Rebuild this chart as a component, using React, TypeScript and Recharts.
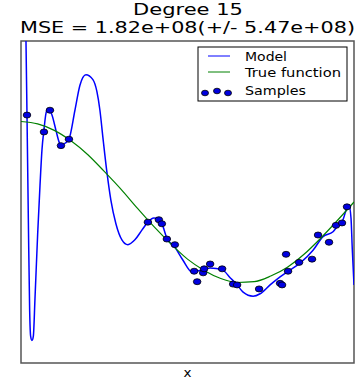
import React from 'react'
import { ComposedChart, Line, Scatter, XAxis, YAxis, ReferenceArea } from 'recharts'

// noisy samples of the true function
const sampleX = [
  0.018, 0.069, 0.087, 0.12, 0.144, 0.381, 0.414, 0.423, 0.438, 0.462,
  0.52, 0.529, 0.547, 0.55, 0.568, 0.604, 0.637, 0.649, 0.715, 0.778,
  0.784, 0.796, 0.802, 0.835, 0.874, 0.892, 0.925, 0.946, 0.964, 0.979,
]
const sampleY = [
  1.08, 0.87, 1.14, 0.7, 0.78, -0.25, -0.22, -0.27, -0.46, -0.53,
  -0.86, -0.99, -0.88, -0.83, -0.77, -0.83, -1.02, -1.03, -1.08, -1.01,
  -1.03, -0.65, -0.86, -0.75, -0.71, -0.41, -0.5, -0.29, -0.26, -0.06,
]

// true function, read every 0.05
const trueX = [
  0, 0.05, 0.1, 0.15, 0.2, 0.25, 0.3, 0.35, 0.4, 0.45, 0.5,
  0.55, 0.6, 0.65, 0.7, 0.75, 0.8, 0.85, 0.9, 0.95, 1,
]
const trueY = [
  1.0, 0.97, 0.89, 0.76, 0.59, 0.38, 0.16, -0.08, -0.31, -0.52, -0.71,
  -0.85, -0.95, -1.0, -0.99, -0.92, -0.81, -0.65, -0.45, -0.23, 0.0,
]

// degree 15 polynomial fit
const modelX = [
  0, 0.012, 0.015, 0.018, 0.022, 0.026, 0.029, 0.033, 0.037, 0.042,
  0.05, 0.057, 0.063, 0.069, 0.075, 0.081, 0.093, 0.105, 0.114, 0.12,
  0.132, 0.144, 0.162, 0.177, 0.195, 0.216, 0.228, 0.237, 0.246, 0.258,
  0.27, 0.285, 0.303, 0.321, 0.342, 0.363, 0.381, 0.399, 0.414, 0.426,
  0.438, 0.462, 0.486, 0.514, 0.547, 0.568, 0.604, 0.628, 0.649, 0.667,
  0.697, 0.718, 0.748, 0.778, 0.802, 0.838, 0.877, 0.907, 0.937, 0.952,
  0.967, 0.979, 0.985, 0.991, 0.995, 1,
]
const modelY = [
  9.0, 2.6, 1.99, 1.08, -0.2, -1.35, -1.67, -1.72, -1.67, -1.2,
  -0.4, 0.2, 0.65, 0.9, 1.1, 1.16, 1.08, 0.89, 0.75, 0.7,
  0.73, 0.78, 1.14, 1.45, 1.58, 1.52, 1.37, 1.14, 0.8, 0.37,
  0.02, -0.27, -0.47, -0.53, -0.47, -0.35, -0.25, -0.2, -0.21, -0.3,
  -0.45, -0.56, -0.72, -0.87, -0.84, -0.82, -0.84, -0.94, -1.03, -1.12,
  -1.17, -1.14, -1.03, -0.93, -0.86, -0.76, -0.6, -0.43, -0.37, -0.29,
  -0.22, -0.07, -0.04, -0.2, -0.6, -1.03,
]

const samples = sampleX.map((x, i) => ({ x, y: sampleY[i] }))
const truth = trueX.map((x, i) => ({ x, y: trueY[i] }))
const model = modelX.map((x, i) => ({ x, y: modelY[i] }))

const W = 356
const H = 381
const font = '"DejaVu Sans", sans-serif'

const Dot = (props: any) => (
  <ellipse cx={props.cx} cy={props.cy} rx={3.8} ry={3} fill="#0000e0" stroke="#000" strokeWidth={0.8} />
)

export default function App() {
  return (
    <div style={{ position: 'absolute', left: 0, top: 0, width: W, height: H, background: '#fff' }}>
      <ComposedChart width={W} height={H} margin={{ top: 41, right: 2, bottom: 18, left: 21 }}>
        <XAxis type="number" dataKey="x" domain={[0, 1]} hide allowDataOverflow />
        <YAxis type="number" dataKey="y" domain={[-2, 2]} hide allowDataOverflow />
        <Line
          data={model}
          dataKey="y"
          type="monotone"
          stroke="#0000ff"
          strokeWidth={1.5}
          dot={false}
          isAnimationActive={false}
        />
        <Line
          data={truth}
          dataKey="y"
          type="monotone"
          stroke="#008000"
          strokeWidth={1.2}
          dot={false}
          isAnimationActive={false}
        />
        <Scatter data={samples} dataKey="y" shape={Dot} isAnimationActive={false} />
        <ReferenceArea x1={0} x2={1} y1={-2} y2={2} fill="none" stroke="#555" strokeWidth={1.5} ifOverflow="visible" />
      </ComposedChart>
      <svg width={W} height={H} style={{ position: 'absolute', left: 0, top: 0, pointerEvents: 'none' }}>
        <g fontFamily={font} fill="#000">
          <text x={133} y={14.5} fontSize={15.5} textLength={110} lengthAdjust="spacingAndGlyphs">Degree 15</text>
          <text x={20} y={33} fontSize={15.5} textLength={335} lengthAdjust="spacingAndGlyphs">
            MSE = 1.82e+08(+/- 5.47e+08)
          </text>
          <text x={183.5} y={377} fontSize={12.5} textLength={8} lengthAdjust="spacingAndGlyphs">x</text>
        </g>
        <g fontFamily={font}>
          <rect x={198} y={47} width={149} height={54} fill="#fff" stroke="#000" strokeWidth={1} />
          <line x1={208} x2={230} y1={56} y2={56} stroke="#0000ff" strokeWidth={1} />
          <text x={245} y={60.5} fontSize={12} textLength={42} lengthAdjust="spacingAndGlyphs">Model</text>
          <line x1={208} x2={230} y1={72} y2={72} stroke="#008000" strokeWidth={1} />
          <text x={245} y={77} fontSize={12} textLength={96} lengthAdjust="spacingAndGlyphs">True function</text>
          <ellipse cx={205} cy={93} rx={3.5} ry={2.8} fill="#0000e0" stroke="#000" strokeWidth={0.8} />
          <ellipse cx={217} cy={91} rx={3.5} ry={2.8} fill="#0000e0" stroke="#000" strokeWidth={0.8} />
          <ellipse cx={228} cy={93} rx={3.5} ry={2.8} fill="#0000e0" stroke="#000" strokeWidth={0.8} />
          <text x={245} y={94.5} fontSize={12} textLength={61} lengthAdjust="spacingAndGlyphs">Samples</text>
        </g>
      </svg>
    </div>
  )
}
